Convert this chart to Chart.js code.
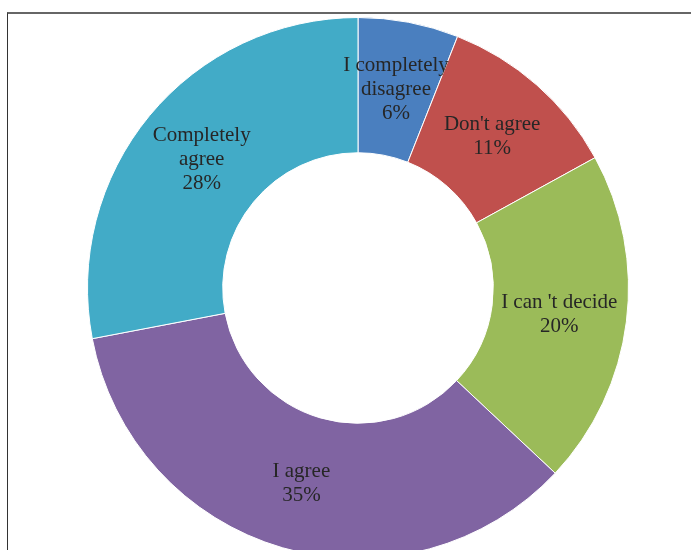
<!DOCTYPE html>
<html>
<head>
<meta charset="utf-8">
<script src="https://cdn.jsdelivr.net/npm/chart.js@4/dist/chart.umd.min.js"></script>
<style>
    html, body {
        margin: 0;
        padding: 0;
        background: #ffffff;
        overflow: hidden;
        width: 691px;
        height: 550px;
    }
    .frame {
        position: absolute;
        left: 7px;
        top: 12px;
        width: 700px;
        height: 600px;
        border-top: 2px solid #666666;
        border-left: 1px solid #333333;
    }
    .wrap {
        position: absolute;
        left: 0;
        top: 0;
        width: 691px;
        height: 600px;
    }
</style>
</head>
<body>
<div class="frame"></div>
<div class="wrap"><canvas id="opinionChart"></canvas></div>
<script>
const categories = [['I completely', 'disagree'], ["Don't agree"], ["I can 't decide"], ['I agree'], ['Completely', 'agree']];
const shares = [6, 11, 20, 35, 28];
const sliceColors = ['#4a7fbf', '#c0504d', '#9bbb59', '#8064a2', '#42abc7'];

const sliceLabels = {
    id: 'sliceLabels',
    afterDatasetsDraw(chart) {
        const ctx = chart.ctx;
        const arcs = chart.getDatasetMeta(0).data;
        ctx.save();
        ctx.font = '21px "Liberation Serif", "Times New Roman", serif';
        ctx.fillStyle = '#262626';
        ctx.textAlign = 'center';
        ctx.textBaseline = 'middle';
        const lineHeight = 24;
        arcs.forEach((arc, i) => {
            const pos = arc.tooltipPosition();
            const lines = categories[i].concat([shares[i] + '%']);
            const startY = pos.y + 1 - (lines.length - 1) * lineHeight / 2;
            lines.forEach((text, j) => {
                ctx.fillText(text, pos.x, startY + j * lineHeight);
            });
        });
        ctx.restore();
    },
};

const canvas = document.getElementById('opinionChart');
new Chart(canvas.getContext('2d'), {
    type: 'doughnut',
    data: {
        labels: categories.map(c => c.join(' ')),
        datasets: [
            {
                data: shares,
                backgroundColor: sliceColors,
                borderColor: '#ffffff',
                borderWidth: 1,
            },
        ],
    },
    options: {
        responsive: true,
        maintainAspectRatio: false,
        animation: false,
        cutout: '50%',
        layout: {
            padding: { top: 17, bottom: 41, left: 87, right: 62 },
        },
        plugins: {
            legend: { display: false },
            tooltip: { enabled: false },
        },
    },
    plugins: [sliceLabels],
});
</script>
</body>
</html>
